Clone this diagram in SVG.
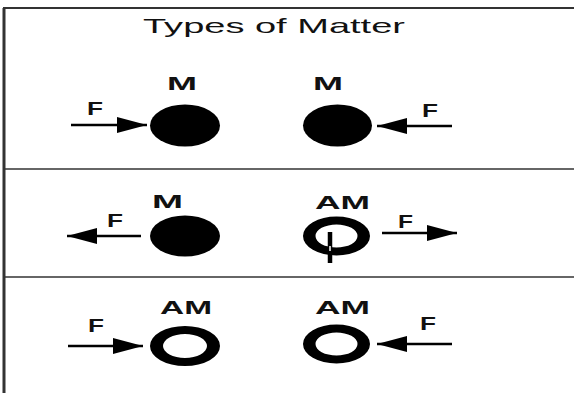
<svg xmlns="http://www.w3.org/2000/svg" width="574" height="393" viewBox="0 0 574 393">
<style>
.t{font-family:"Liberation Sans",Arial,sans-serif;fill:#111}
.lb{font-family:"Liberation Sans",Arial,sans-serif;font-weight:bold;font-size:18px;fill:#111}
.frame{stroke:#333;fill:none}
.body{fill:#000}
.ring{fill:#000;fill-rule:evenodd}
.force{stroke:#000;stroke-width:2.5;fill:none;marker-end:url(#ah)}
</style>
<defs>
<marker id="ah" viewBox="0 0 30 16" markerWidth="30" markerHeight="16" refX="30" refY="8" orient="auto" markerUnits="userSpaceOnUse">
<path d="M0,0 L30,8 L0,16 z" fill="#000"/>
</marker>
</defs>
<rect width="574" height="393" fill="#fff"/>
<g id="frame">
<line class="frame" x1="4" y1="8" x2="4" y2="393" stroke-width="3" stroke="#555"/>
<line class="frame" x1="3" y1="8" x2="574" y2="8" stroke-width="2"/>
<line class="frame" x1="4" y1="169" x2="574" y2="169" stroke-width="1.6"/>
<line class="frame" x1="4" y1="277" x2="574" y2="277" stroke-width="1.6"/>
</g>
<g id="title"><text class="t" x="143" y="33" font-size="21" textLength="262" lengthAdjust="spacingAndGlyphs">Types of Matter</text></g>

<g id="connectors">
<line class="force" x1="71" y1="125" x2="147" y2="125"/>
<line class="force" x1="452" y1="126" x2="377" y2="126"/>
<line class="force" x1="141" y1="236" x2="67" y2="236"/>
<line class="force" x1="382" y1="233" x2="457" y2="233"/>
<line class="force" x1="68" y1="346" x2="143" y2="346"/>
<line class="force" x1="452" y1="344" x2="377" y2="344"/>
</g>

<g id="r1-left">
<ellipse class="body" cx="185" cy="125.5" rx="35" ry="21"/>
<text class="lb" x="167" y="90" textLength="30" lengthAdjust="spacingAndGlyphs">M</text>
<text class="lb" x="87" y="115" textLength="16" lengthAdjust="spacingAndGlyphs">F</text>
</g>
<g id="r1-right">
<ellipse class="body" cx="337.5" cy="125.5" rx="34.5" ry="21"/>
<text class="lb" x="313" y="90" textLength="30" lengthAdjust="spacingAndGlyphs">M</text>
<text class="lb" x="422" y="117" textLength="16" lengthAdjust="spacingAndGlyphs">F</text>
</g>

<g id="r2-left">
<ellipse class="body" cx="185" cy="236" rx="35" ry="20.5"/>
<text class="lb" x="152" y="208" textLength="31" lengthAdjust="spacingAndGlyphs">M</text>
<text class="lb" x="107" y="227" textLength="16" lengthAdjust="spacingAndGlyphs">F</text>
</g>
<g id="r2-right">
<path class="ring" d="M303,236 a33.5,19.5 0 1,0 67,0 a33.5,19.5 0 1,0 -67,0 z M315.5,236 a21,11.5 0 1,0 42,0 a21,11.5 0 1,0 -42,0 z"/>
<line x1="330" y1="232" x2="330" y2="263" stroke="#000" stroke-width="4.5"/>
<line x1="330" y1="246" x2="330" y2="251" stroke="#fff" stroke-width="1.5"/>
<text class="lb" x="315" y="209" textLength="55" lengthAdjust="spacingAndGlyphs">AM</text>
<text class="lb" x="398" y="228" textLength="15" lengthAdjust="spacingAndGlyphs">F</text>
</g>

<g id="r3-left">
<path class="ring" d="M150,346 a35,20 0 1,0 70,0 a35,20 0 1,0 -70,0 z M163,346 a22,12 0 1,0 44,0 a22,12 0 1,0 -44,0 z"/>
<text class="lb" x="160" y="314" textLength="52" lengthAdjust="spacingAndGlyphs">AM</text>
<text class="lb" x="88" y="332" textLength="16" lengthAdjust="spacingAndGlyphs">F</text>
</g>
<g id="r3-right">
<path class="ring" d="M303,344 a33.5,19.5 0 1,0 67,0 a33.5,19.5 0 1,0 -67,0 z M315.5,344 a21,11.5 0 1,0 42,0 a21,11.5 0 1,0 -42,0 z"/>
<text class="lb" x="315" y="314" textLength="55" lengthAdjust="spacingAndGlyphs">AM</text>
<text class="lb" x="420" y="330" textLength="16" lengthAdjust="spacingAndGlyphs">F</text>
</g>
</svg>
